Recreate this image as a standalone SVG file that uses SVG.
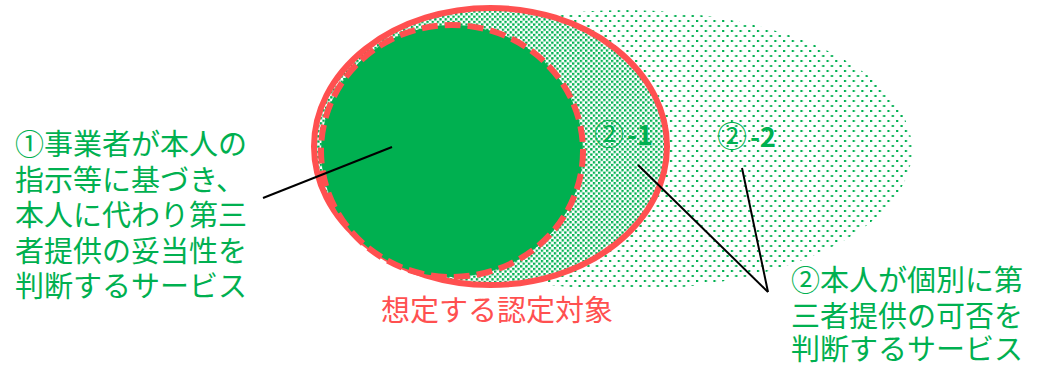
<svg xmlns="http://www.w3.org/2000/svg" width="1043" height="366" viewBox="0 0 1043 366">
<style>
.lbl{font-family:"Noto Sans CJK JP","Noto Sans",sans-serif;font-size:29px;fill:#00B050}
.red{fill:#FF5050}
.tag{font-family:"Noto Sans CJK JP","Noto Sans",sans-serif;font-size:27px;font-weight:700;fill:#00B050}
.circ{font-size:30px;font-weight:400}
.conn{stroke:#000;stroke-width:2;fill:none}
</style>
<defs>
<pattern id="dots" patternUnits="userSpaceOnUse" width="8.7" height="10">
<rect x="0" y="0" width="2.2" height="2" fill="#00B050"/>
<rect x="4.35" y="5" width="2.2" height="2" fill="#00B050"/>
</pattern>
<pattern id="checker" patternUnits="userSpaceOnUse" width="5.2" height="5.2">
<rect x="0" y="0" width="2.3" height="2.3" fill="#00B050"/>
<rect x="2.6" y="2.6" width="2.3" height="2.3" fill="#00B050"/>
</pattern>
</defs>
<rect width="1043" height="366" fill="#fff"/>
<g id="scope2-2">
<ellipse cx="625" cy="150" rx="287" ry="140" fill="url(#dots)"/>
</g>
<g id="target">
<ellipse cx="490.5" cy="146.5" rx="176.5" ry="138.5" fill="#fff"/>
<ellipse cx="490.5" cy="146.5" rx="176.5" ry="138.5" fill="url(#checker)" stroke="#FF5050" stroke-width="6"/>
</g>
<g id="scope1">
<ellipse cx="452" cy="151" rx="131" ry="126" fill="#00B050" stroke="#FF5050" stroke-width="6" stroke-dasharray="16 7"/>
</g>
<g id="connectors">
<line class="conn" x1="263" y1="198" x2="392" y2="147"/>
<line class="conn" x1="638" y1="165" x2="768" y2="292"/>
<line class="conn" x1="742" y1="168" x2="768" y2="292"/>
</g>
<g id="label1">
<text class="lbl" x="15" y="155"><tspan x="15" y="155">①事業者が本人の</tspan><tspan x="15" y="191">指示等に基づき、</tspan><tspan x="15" y="226">本人に代わり第三</tspan><tspan x="15" y="262">者提供の妥当性を</tspan><tspan x="15" y="297">判断するサービス</tspan></text>
</g>
<g id="label2">
<text class="lbl" x="791" y="291"><tspan x="791" y="291">②本人が個別に第</tspan><tspan x="791" y="327">三者提供の可否を</tspan><tspan x="791" y="360">判断するサービス</tspan></text>
</g>
<g id="label-target">
<text class="lbl red" x="497" y="321" text-anchor="middle">想定する認定対象</text>
</g>
<g id="tag2-1">
<text class="tag" x="594" y="145"><tspan class="circ">②</tspan><tspan dx="3">-1</tspan></text>
</g>
<g id="tag2-2">
<text class="tag" x="717" y="147"><tspan class="circ">②</tspan><tspan dx="3">-2</tspan></text>
</g>
</svg>
